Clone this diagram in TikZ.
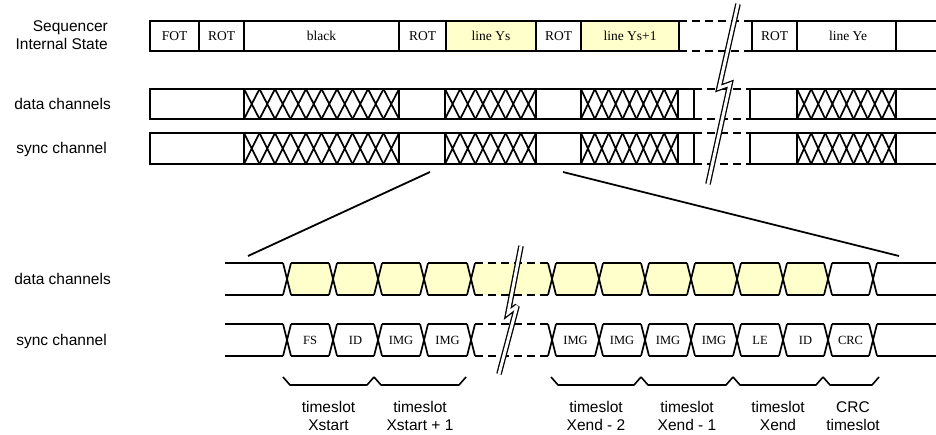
\documentclass[tikz,border=0pt]{standalone}
\usepackage{fontspec}
\setmainfont{Liberation Serif}
\newfontfamily\lsans{Liberation Sans}
\definecolor{lyellow}{HTML}{FFFFCC}
\begin{document}
\begin{tikzpicture}[x=1pt,y=-1pt,
  border/.style={line width=2.2pt},
  xline/.style={line width=1.7pt},
  brk/.style={line width=2.4pt,dash pattern=on 8pt off 5pt},
  lab/.style={font=\lsans\fontsize{15.5}{18}\selectfont,anchor=base east,inner sep=0pt},
  slot/.style={font=\fontsize{13.5}{16}\selectfont,anchor=base,inner sep=0pt},
  bslot/.style={font=\fontsize{12.5}{15}\selectfont,anchor=base,inner sep=0pt},
  blab/.style={font=\lsans\fontsize{15.5}{18}\selectfont,align=center,anchor=base,inner sep=0pt},
  zoomline/.style={line width=1.8pt},
  bracket/.style={line width=1.6pt},
  slash/.style={line width=1.3pt,draw=black,double=white,double distance=3pt,line join=miter,miter limit=3}]
\useasboundingbox (0,0) rectangle (936,434);

% ---------------- left labels
\node[lab] (seq1) at (108,31) {Sequencer};
\node[lab] (seq2) at (108,49) {Internal State};
\node[lab] (dc1) at (111,109) {data channels};
\node[lab] (sc1) at (107,153) {sync channel};
\node[lab] (dc2) at (111,284) {data channels};
\node[lab] (sc2) at (107,345) {sync channel};

% ---------------- sequencer internal state row
\fill[lyellow] (446,21) rectangle (536,51);
\fill[lyellow] (581,21) rectangle (679,51);
\draw[border] (150,21) rectangle (679,51);
\foreach \x in {199,244,399,446,536,581} \draw[border] (\x,21) -- (\x,51);
\draw[brk] (679,21) -- (752,21) (679,51) -- (752,51);
\draw[border] (936,21) -- (752,21) -- (752,51) -- (936,51);
\foreach \x in {797,896} \draw[border] (\x,21) -- (\x,51);
\node[slot] (s1) at (174.5,40.5) {FOT};
\node[slot] (s2) at (221.5,40.5) {ROT};
\node[slot] (s3) at (321.5,40.5) {black};
\node[slot] (s4) at (422.5,40.5) {ROT};
\node[slot] (s5) at (491,40.5) {line Ys};
\node[slot] (s6) at (558.5,40.5) {ROT};
\node[slot] (s7) at (630,40.5) {line Ys+1};
\node[slot] (s8) at (774.5,40.5) {ROT};
\node[slot] (s9) at (848,40.5) {line Ye};

% ---------------- data / sync channel rows (top section)
\foreach \T/\B in {89/119,133/164} {
  \foreach \L/\R/\n in {244/399/10,445/536/6,581/678/7,797/896/7} {
    \pgfmathsetmacro\w{(\R-\L)/\n}
    \foreach \k in {1,...,\n} {
      \draw[xline] ({\L+(\k-1)*\w},\T) -- ({\L+\k*\w},\B)
                   ({\L+(\k-1)*\w},\B) -- ({\L+\k*\w},\T);
    }
  }
  \draw[border] (694,\T) -- (150,\T) -- (150,\B) -- (694,\B);
  \foreach \x in {244,399,445,536,581,678,694} \draw[border] (\x,\T) -- (\x,\B);
  \draw[brk] (694,\T) -- (750,\T) (694,\B) -- (750,\B);
  \draw[border] (936,\T) -- (750,\T) -- (750,\B) -- (936,\B);
  \foreach \x in {797,896} \draw[border] (\x,\T) -- (\x,\B);
}

% top break symbol
\draw[slash] (738,4) -- (719,88) -- (730,84) -- (708,184);

% ---------------- zoom lines
\coordinate (za) at (430,172);
\coordinate (zb) at (248,256);
\coordinate (zc) at (563,172);
\coordinate (zd) at (899,256);
\draw[zoomline] (za) -- (zb);
\draw[zoomline] (zc) -- (zd);

% ---------------- bottom detail rows
% yellow fill in data row
\foreach \a/\b in {287/333,333/378,378/424,424/471,471/552,552/599,599/645,645/691,691/737,737/783,783/828}
  \fill[lyellow] (\a,279) -- (\a+4,263) -- (\b-4,263) -- (\b,279) -- (\b-4,295) -- (\a+4,295) -- cycle;

\foreach \T/\B in {263/295,324/356} {
  \foreach \y in {\T,\B} {
    \draw[border] (225,\y) -- (283,\y);
    \foreach \a/\b in {287/333,333/378,378/424,424/471,552/599,599/645,645/691,691/737,737/783,783/828,828/873}
      \draw[border] (\a+4,\y) -- (\b-4,\y);
    \draw[border] (877,\y) -- (936,\y);
    \draw[brk] (475,\y) -- (548,\y);
  }
  \foreach \x in {287,333,378,424,471,552,599,645,691,737,783,828,873}
    \draw[xline] (\x-4,\T) -- (\x+4,\B) (\x-4,\B) -- (\x+4,\T);
}

% bottom break symbol
\draw[slash] (521,246) -- (508,313) -- (517,306) -- (499,374);

% sync labels
\node[bslot] (b1) at (310,344) {FS};
\node[bslot] (b2) at (355.5,344) {ID};
\node[bslot] (b3) at (401,344) {IMG};
\node[bslot] (b4) at (447.5,344) {IMG};
\node[bslot] (b5) at (575.5,344) {IMG};
\node[bslot] (b6) at (622,344) {IMG};
\node[bslot] (b7) at (668,344) {IMG};
\node[bslot] (b8) at (714,344) {IMG};
\node[bslot] (b9) at (760,344) {LE};
\node[bslot] (b10) at (805.5,344) {ID};
\node[bslot] (b11) at (850.5,344) {CRC};

% brackets
\foreach \a/\b in {283/374,374/466,551/641,641/733,733/823,823/879}
  \draw[bracket,line join=round] (\a,377) -- (\a+7,385) -- (\b-7,385) -- (\b,377);

% bracket labels (base = baseline of the last line)
\node[blab] (t1) at (328.5,430) {timeslot\\Xstart};
\node[blab] (t2) at (420,430) {timeslot\\Xstart + 1};
\node[blab] (t3) at (596,430) {timeslot\\Xend - 2};
\node[blab] (t4) at (687,430) {timeslot\\Xend - 1};
\node[blab] (t5) at (778,430) {timeslot\\Xend};
\node[blab] (t6) at (853,430) {CRC\\timeslot};
\end{tikzpicture}
\end{document}
